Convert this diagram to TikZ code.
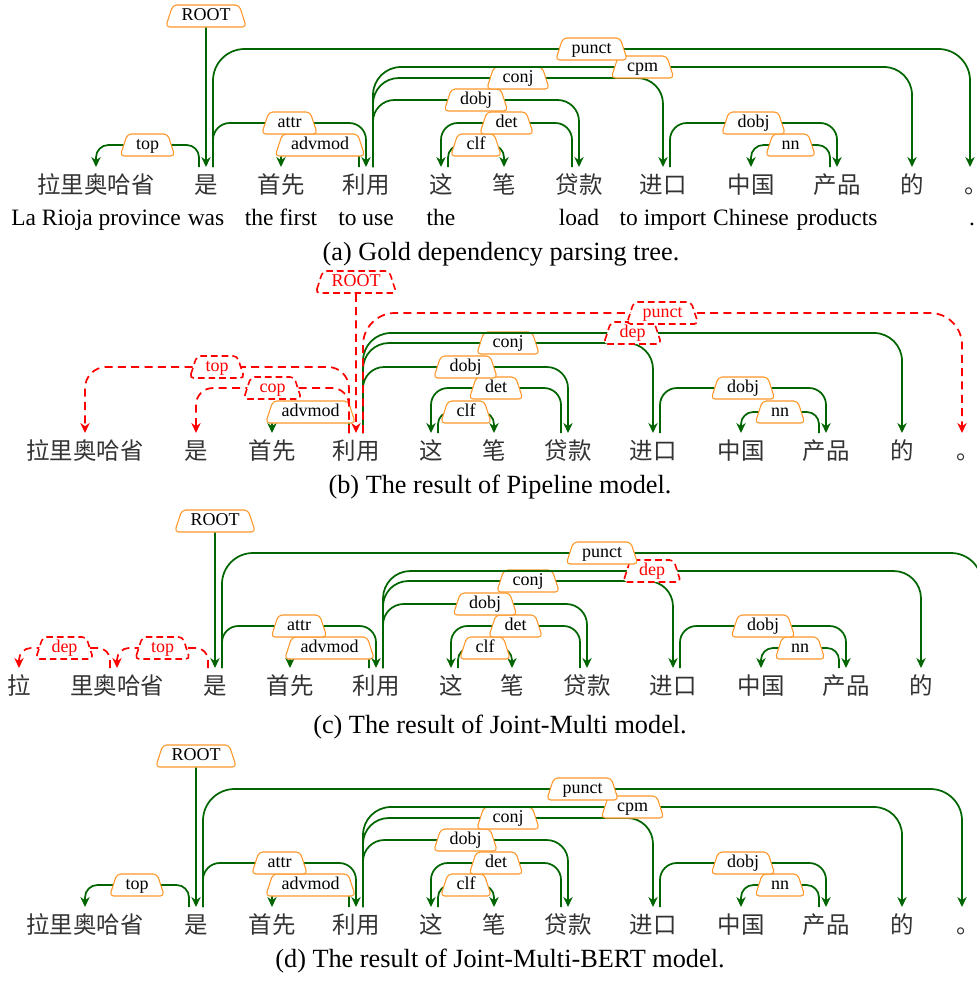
\documentclass[tikz,border=0pt]{standalone}
\usepackage{fontspec}
\setmainfont{Liberation Serif}
\newfontfamily\cjk{Noto Sans CJK SC}
\usetikzlibrary{arrows.meta,shapes.geometric,calc}

\definecolor{arcgreen}{RGB}{0,100,0}
\definecolor{relorange}{RGB}{255,150,40}
\definecolor{wrongred}{RGB}{255,0,0}

\tikzset{
  tok/.style={anchor=north, inner sep=0pt, text height=19.4pt, text depth=1.8pt,
    font=\cjk\fontsize{17.6}{20}\selectfont, text=black!80},
  gloss/.style={anchor=base, inner sep=0pt, font=\fontsize{17.6}{20}\selectfont},
  depline/.style={draw=arcgreen, line width=1.3pt, -{Stealth[length=7.5pt,width=7pt]}},
  wrong/.style={draw=wrongred, dash pattern=on 6pt off 4pt},
  rel/.style={trapezium, trapezium left angle=72, trapezium right angle=72,
    rounded corners=3pt, draw=relorange, solid, line width=0.8pt, fill=white, text=black,
    inner xsep=6.5pt, inner ysep=2pt, text height=9.5pt, text depth=3pt,
    font=\fontsize{13.5}{15}\selectfont},
  wronglab/.style={draw=wrongred, text=wrongred, line width=1.2pt, dash pattern=on 5pt off 3pt},
  subcap/.style={anchor=base, inner sep=0pt, font=\fontsize{19.7}{22}\selectfont}
}

% head, dependent, height, start shift, label, edge style, label style
\newcommand\depedge[7]{%
  \pgfmathsetmacro\bend{0.75*(8+0.2*#3)}%
  \draw[depline,#6,rounded corners=\bend pt] ($(#1.north)+(#4,0)$) -- ++(0,-#3)
    -- node[rel,#7] (#1to#2) {#5} ($(#2.north)+(0,-#3)$) -- (#2.north);}
% full stop, boxed round its ink
\newcommand\fullstop{\makebox[.45em][l]{。}}

\begin{document}
\begin{tikzpicture}[x=0.75pt, y=-0.75pt]
  \useasboundingbox (0,0) rectangle (977,981);
  \clip (0,0) rectangle (977,981);

  % (a) Gold tree, with glosses.
  \foreach \w/\x [count=\i] in {拉里奥哈省/96, 是/206, 首先/281, 利用/366, 这/441, 笔/504,
      贷款/579, 进口/663, 中国/751, 产品/837, 的/912, \fullstop/970}
    \node[tok] (a\i) at (\x,167) {\w};
  \foreach \w/\x [count=\i] in {La Rioja province/96, was/206, the first/281, to use/366,
      the/441, load/579, to import/663, Chinese/751, products/837, ./972}
    \node[gloss] (g\i) at (\x,225) {\w};
  \node[rel] (aroot) at (206,16) {ROOT};
  \draw[depline] (aroot.south) -- (a2.north);
  \depedge{a2}{a1}{22}{-7}{top}{}{}
  \depedge{a4}{a3}{22}{-7}{advmod}{}{}
  \depedge{a5}{a6}{22}{7}{clf}{}{}
  \depedge{a10}{a9}{22}{-7}{nn}{}{}
  \depedge{a2}{a4}{44}{7}{attr}{}{}
  \depedge{a7}{a5}{44}{-7}{det}{}{}
  \depedge{a8}{a10}{44}{7}{dobj}{}{}
  \depedge{a4}{a7}{67}{7}{dobj}{}{}
  \depedge{a4}{a8}{89}{7}{conj}{}{}
  \depedge{a4}{a11}{100}{7}{cpm}{}{}
  \depedge{a2}{a12}{118}{7}{punct}{}{}
  \node[subcap] (capa) at (501,260) {(a) Gold dependency parsing tree.};

  % (b) Pipeline.
  \foreach \w/\x [count=\i] in {拉里奥哈省/85, 是/196, 首先/272, 利用/356, 这/431, 笔/494,
      贷款/568, 进口/653, 中国/741, 产品/826, 的/902, \fullstop/962}
    \node[tok] (b\i) at (\x,433) {\w};
  \node[rel,wronglab] (broot) at (356,282) {ROOT};
  \draw[depline,wrong] (broot.south) -- (b4.north);
  \depedge{b4}{b3}{21}{-7}{advmod}{}{}
  \depedge{b5}{b6}{21}{7}{clf}{}{}
  \depedge{b10}{b9}{21}{-7}{nn}{}{}
  \depedge{b4}{b2}{45}{-7}{cop}{wrong}{wronglab}
  \depedge{b7}{b5}{45}{-7}{det}{}{}
  \depedge{b8}{b10}{45}{7}{dobj}{}{}
  \depedge{b4}{b1}{66}{-7}{top}{wrong}{wronglab}
  \depedge{b4}{b7}{66}{7}{dobj}{}{}
  \depedge{b4}{b8}{90}{7}{conj}{}{}
  \depedge{b4}{b11}{100}{7}{dep}{}{wronglab}
  \depedge{b4}{b12}{120}{7}{punct}{wrong}{wronglab}
  \node[subcap] (capb) at (500,493) {(b) The result of Pipeline model.};

  % (c) Joint-Multi; its full stop lies past the right edge.
  \foreach \w/\x [count=\i] in {拉/19, 里奥哈省/117, 是/215, 首先/290, 利用/376, 这/451, 笔/512,
      贷款/587, 进口/673, 中国/761, 产品/846, 的/921}
    \node[tok] (c\i) at (\x,668) {\w};
  \node[tok] (c13) at (982,668) {};
  \node[rel] (croot) at (215,521) {ROOT};
  \draw[depline] (croot.south) -- (c3.north);
  \depedge{c2}{c1}{20}{-7}{dep}{wrong}{wronglab}
  \depedge{c3}{c2}{20}{-7}{top}{wrong}{wronglab}
  \depedge{c5}{c4}{20}{-7}{advmod}{}{}
  \depedge{c6}{c7}{20}{7}{clf}{}{}
  \depedge{c11}{c10}{20}{-7}{nn}{}{}
  \depedge{c3}{c5}{42}{7}{attr}{}{}
  \depedge{c8}{c6}{42}{-7}{det}{}{}
  \depedge{c9}{c11}{42}{7}{dobj}{}{}
  \depedge{c5}{c8}{64}{7}{dobj}{}{}
  \depedge{c5}{c9}{87}{7}{conj}{}{}
  \depedge{c5}{c12}{97}{7}{dep}{}{wronglab}
  \depedge{c3}{c13}{115}{7}{punct}{}{}
  \node[subcap] (capc) at (500,733) {(c) The result of Joint-Multi model.};

  % (d) Joint-Multi-BERT.
  \foreach \w/\x [count=\i] in {拉里奥哈省/85, 是/196, 首先/272, 利用/356, 这/431, 笔/494,
      贷款/568, 进口/653, 中国/741, 产品/826, 的/902, \fullstop/962}
    \node[tok] (d\i) at (\x,907) {\w};
  \node[rel] (droot) at (196,756) {ROOT};
  \draw[depline] (droot.south) -- (d2.north);
  \depedge{d2}{d1}{22}{-7}{top}{}{}
  \depedge{d4}{d3}{22}{-7}{advmod}{}{}
  \depedge{d5}{d6}{22}{7}{clf}{}{}
  \depedge{d10}{d9}{22}{-7}{nn}{}{}
  \depedge{d2}{d4}{44}{7}{attr}{}{}
  \depedge{d7}{d5}{44}{-7}{det}{}{}
  \depedge{d8}{d10}{44}{7}{dobj}{}{}
  \depedge{d4}{d7}{67}{7}{dobj}{}{}
  \depedge{d4}{d8}{89}{7}{conj}{}{}
  \depedge{d4}{d11}{100}{7}{cpm}{}{}
  \depedge{d2}{d12}{118}{7}{punct}{}{}
  \node[subcap] (capd) at (500,967) {(d) The result of Joint-Multi-BERT model.};
\end{tikzpicture}
\end{document}
